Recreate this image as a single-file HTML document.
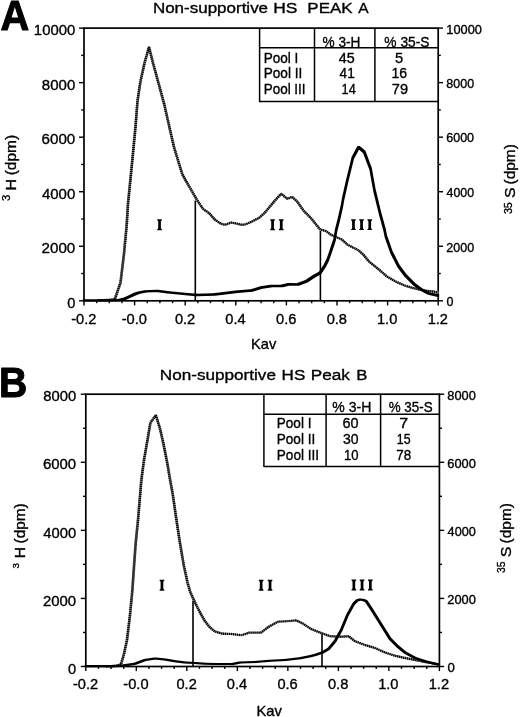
<!DOCTYPE html>
<html><head><meta charset="utf-8"><title>Non-supportive HS peaks</title>
<style>html,body{margin:0;padding:0;background:#fff}text{font-kerning:none}svg{display:block;will-change:transform;transform:translateZ(0)}</style></head>
<body>
<svg width="520" height="717" viewBox="0 0 520 717" stroke="#000" fill="#000">
<rect x="0" y="0" width="520" height="717" fill="#fff" stroke="none"/>
<defs></defs>
<g stroke="#000">
<rect x="84.00" y="28.10" width="354.20" height="272.70" fill="none" stroke-width="1.7"/>
<line x1="79.00" y1="300.80" x2="84.00" y2="300.80" stroke-width="1.4"/>
<line x1="438.20" y1="300.80" x2="443.00" y2="300.80" stroke-width="1.4"/>
<line x1="81.20" y1="273.53" x2="84.00" y2="273.53" stroke-width="1.4"/>
<line x1="438.20" y1="273.53" x2="440.80" y2="273.53" stroke-width="1.4"/>
<line x1="79.00" y1="246.26" x2="84.00" y2="246.26" stroke-width="1.4"/>
<line x1="438.20" y1="246.26" x2="443.00" y2="246.26" stroke-width="1.4"/>
<line x1="81.20" y1="218.99" x2="84.00" y2="218.99" stroke-width="1.4"/>
<line x1="438.20" y1="218.99" x2="440.80" y2="218.99" stroke-width="1.4"/>
<line x1="79.00" y1="191.72" x2="84.00" y2="191.72" stroke-width="1.4"/>
<line x1="438.20" y1="191.72" x2="443.00" y2="191.72" stroke-width="1.4"/>
<line x1="81.20" y1="164.45" x2="84.00" y2="164.45" stroke-width="1.4"/>
<line x1="438.20" y1="164.45" x2="440.80" y2="164.45" stroke-width="1.4"/>
<line x1="79.00" y1="137.18" x2="84.00" y2="137.18" stroke-width="1.4"/>
<line x1="438.20" y1="137.18" x2="443.00" y2="137.18" stroke-width="1.4"/>
<line x1="81.20" y1="109.91" x2="84.00" y2="109.91" stroke-width="1.4"/>
<line x1="438.20" y1="109.91" x2="440.80" y2="109.91" stroke-width="1.4"/>
<line x1="79.00" y1="82.64" x2="84.00" y2="82.64" stroke-width="1.4"/>
<line x1="438.20" y1="82.64" x2="443.00" y2="82.64" stroke-width="1.4"/>
<line x1="81.20" y1="55.37" x2="84.00" y2="55.37" stroke-width="1.4"/>
<line x1="438.20" y1="55.37" x2="440.80" y2="55.37" stroke-width="1.4"/>
<line x1="79.00" y1="28.10" x2="84.00" y2="28.10" stroke-width="1.4"/>
<line x1="438.20" y1="28.10" x2="443.00" y2="28.10" stroke-width="1.4"/>
<line x1="84.00" y1="300.80" x2="84.00" y2="305.40" stroke-width="1.4"/>
<line x1="96.65" y1="300.80" x2="96.65" y2="303.20" stroke-width="1.4"/>
<line x1="109.30" y1="300.80" x2="109.30" y2="303.20" stroke-width="1.4"/>
<line x1="121.95" y1="300.80" x2="121.95" y2="303.20" stroke-width="1.4"/>
<line x1="134.60" y1="300.80" x2="134.60" y2="305.40" stroke-width="1.4"/>
<line x1="147.25" y1="300.80" x2="147.25" y2="303.20" stroke-width="1.4"/>
<line x1="159.90" y1="300.80" x2="159.90" y2="303.20" stroke-width="1.4"/>
<line x1="172.55" y1="300.80" x2="172.55" y2="303.20" stroke-width="1.4"/>
<line x1="185.20" y1="300.80" x2="185.20" y2="305.40" stroke-width="1.4"/>
<line x1="197.85" y1="300.80" x2="197.85" y2="303.20" stroke-width="1.4"/>
<line x1="210.50" y1="300.80" x2="210.50" y2="303.20" stroke-width="1.4"/>
<line x1="223.15" y1="300.80" x2="223.15" y2="303.20" stroke-width="1.4"/>
<line x1="235.80" y1="300.80" x2="235.80" y2="305.40" stroke-width="1.4"/>
<line x1="248.45" y1="300.80" x2="248.45" y2="303.20" stroke-width="1.4"/>
<line x1="261.10" y1="300.80" x2="261.10" y2="303.20" stroke-width="1.4"/>
<line x1="273.75" y1="300.80" x2="273.75" y2="303.20" stroke-width="1.4"/>
<line x1="286.40" y1="300.80" x2="286.40" y2="305.40" stroke-width="1.4"/>
<line x1="299.05" y1="300.80" x2="299.05" y2="303.20" stroke-width="1.4"/>
<line x1="311.70" y1="300.80" x2="311.70" y2="303.20" stroke-width="1.4"/>
<line x1="324.35" y1="300.80" x2="324.35" y2="303.20" stroke-width="1.4"/>
<line x1="337.00" y1="300.80" x2="337.00" y2="305.40" stroke-width="1.4"/>
<line x1="349.65" y1="300.80" x2="349.65" y2="303.20" stroke-width="1.4"/>
<line x1="362.30" y1="300.80" x2="362.30" y2="303.20" stroke-width="1.4"/>
<line x1="374.95" y1="300.80" x2="374.95" y2="303.20" stroke-width="1.4"/>
<line x1="387.60" y1="300.80" x2="387.60" y2="305.40" stroke-width="1.4"/>
<line x1="400.25" y1="300.80" x2="400.25" y2="303.20" stroke-width="1.4"/>
<line x1="412.90" y1="300.80" x2="412.90" y2="303.20" stroke-width="1.4"/>
<line x1="425.55" y1="300.80" x2="425.55" y2="303.20" stroke-width="1.4"/>
<line x1="438.20" y1="300.80" x2="438.20" y2="305.40" stroke-width="1.4"/>
<rect x="85.80" y="394.20" width="353.60" height="272.30" fill="none" stroke-width="1.7"/>
<line x1="80.80" y1="666.50" x2="85.80" y2="666.50" stroke-width="1.4"/>
<line x1="439.40" y1="666.50" x2="444.20" y2="666.50" stroke-width="1.4"/>
<line x1="83.00" y1="632.46" x2="85.80" y2="632.46" stroke-width="1.4"/>
<line x1="439.40" y1="632.46" x2="442.00" y2="632.46" stroke-width="1.4"/>
<line x1="80.80" y1="598.42" x2="85.80" y2="598.42" stroke-width="1.4"/>
<line x1="439.40" y1="598.42" x2="444.20" y2="598.42" stroke-width="1.4"/>
<line x1="83.00" y1="564.39" x2="85.80" y2="564.39" stroke-width="1.4"/>
<line x1="439.40" y1="564.39" x2="442.00" y2="564.39" stroke-width="1.4"/>
<line x1="80.80" y1="530.35" x2="85.80" y2="530.35" stroke-width="1.4"/>
<line x1="439.40" y1="530.35" x2="444.20" y2="530.35" stroke-width="1.4"/>
<line x1="83.00" y1="496.31" x2="85.80" y2="496.31" stroke-width="1.4"/>
<line x1="439.40" y1="496.31" x2="442.00" y2="496.31" stroke-width="1.4"/>
<line x1="80.80" y1="462.27" x2="85.80" y2="462.27" stroke-width="1.4"/>
<line x1="439.40" y1="462.27" x2="444.20" y2="462.27" stroke-width="1.4"/>
<line x1="83.00" y1="428.24" x2="85.80" y2="428.24" stroke-width="1.4"/>
<line x1="439.40" y1="428.24" x2="442.00" y2="428.24" stroke-width="1.4"/>
<line x1="80.80" y1="394.20" x2="85.80" y2="394.20" stroke-width="1.4"/>
<line x1="439.40" y1="394.20" x2="444.20" y2="394.20" stroke-width="1.4"/>
<line x1="85.80" y1="666.50" x2="85.80" y2="671.10" stroke-width="1.4"/>
<line x1="98.43" y1="666.50" x2="98.43" y2="668.90" stroke-width="1.4"/>
<line x1="111.06" y1="666.50" x2="111.06" y2="668.90" stroke-width="1.4"/>
<line x1="123.69" y1="666.50" x2="123.69" y2="668.90" stroke-width="1.4"/>
<line x1="136.31" y1="666.50" x2="136.31" y2="671.10" stroke-width="1.4"/>
<line x1="148.94" y1="666.50" x2="148.94" y2="668.90" stroke-width="1.4"/>
<line x1="161.57" y1="666.50" x2="161.57" y2="668.90" stroke-width="1.4"/>
<line x1="174.20" y1="666.50" x2="174.20" y2="668.90" stroke-width="1.4"/>
<line x1="186.83" y1="666.50" x2="186.83" y2="671.10" stroke-width="1.4"/>
<line x1="199.46" y1="666.50" x2="199.46" y2="668.90" stroke-width="1.4"/>
<line x1="212.09" y1="666.50" x2="212.09" y2="668.90" stroke-width="1.4"/>
<line x1="224.71" y1="666.50" x2="224.71" y2="668.90" stroke-width="1.4"/>
<line x1="237.34" y1="666.50" x2="237.34" y2="671.10" stroke-width="1.4"/>
<line x1="249.97" y1="666.50" x2="249.97" y2="668.90" stroke-width="1.4"/>
<line x1="262.60" y1="666.50" x2="262.60" y2="668.90" stroke-width="1.4"/>
<line x1="275.23" y1="666.50" x2="275.23" y2="668.90" stroke-width="1.4"/>
<line x1="287.86" y1="666.50" x2="287.86" y2="671.10" stroke-width="1.4"/>
<line x1="300.49" y1="666.50" x2="300.49" y2="668.90" stroke-width="1.4"/>
<line x1="313.11" y1="666.50" x2="313.11" y2="668.90" stroke-width="1.4"/>
<line x1="325.74" y1="666.50" x2="325.74" y2="668.90" stroke-width="1.4"/>
<line x1="338.37" y1="666.50" x2="338.37" y2="671.10" stroke-width="1.4"/>
<line x1="351.00" y1="666.50" x2="351.00" y2="668.90" stroke-width="1.4"/>
<line x1="363.63" y1="666.50" x2="363.63" y2="668.90" stroke-width="1.4"/>
<line x1="376.26" y1="666.50" x2="376.26" y2="668.90" stroke-width="1.4"/>
<line x1="388.89" y1="666.50" x2="388.89" y2="671.10" stroke-width="1.4"/>
<line x1="401.51" y1="666.50" x2="401.51" y2="668.90" stroke-width="1.4"/>
<line x1="414.14" y1="666.50" x2="414.14" y2="668.90" stroke-width="1.4"/>
<line x1="426.77" y1="666.50" x2="426.77" y2="668.90" stroke-width="1.4"/>
<line x1="439.40" y1="666.50" x2="439.40" y2="671.10" stroke-width="1.4"/>
<line x1="259.60" y1="28.10" x2="259.60" y2="102.20" stroke-width="1.5"/>
<line x1="314.50" y1="28.10" x2="314.50" y2="101.50" stroke-width="1.5"/>
<line x1="374.90" y1="28.10" x2="374.90" y2="101.50" stroke-width="1.5"/>
<line x1="259.60" y1="47.80" x2="438.20" y2="47.80" stroke-width="1.5"/>
<line x1="259.60" y1="101.50" x2="438.20" y2="101.50" stroke-width="1.5"/>
<line x1="263.90" y1="394.20" x2="263.90" y2="467.10" stroke-width="1.5"/>
<line x1="326.10" y1="394.20" x2="326.10" y2="466.40" stroke-width="1.5"/>
<line x1="380.60" y1="394.20" x2="380.60" y2="466.40" stroke-width="1.5"/>
<line x1="263.90" y1="414.30" x2="439.40" y2="414.30" stroke-width="1.5"/>
<line x1="263.90" y1="466.40" x2="439.40" y2="466.40" stroke-width="1.5"/>
<path d="M157.20,219.30h4.7v0.95q-1.00,0.1 -1.00,1.5V227.75q0,1.4 1.00,1.5v0.95h-4.7v-0.95q1.00,-0.1 1.00,-1.5V221.75q0,-1.4 -1.00,-1.5z" stroke="none" fill="#000"/>
<path d="M270.20,219.30h4.7v0.95q-1.00,0.1 -1.00,1.5V227.75q0,1.4 1.00,1.5v0.95h-4.7v-0.95q1.00,-0.1 1.00,-1.5V221.75q0,-1.4 -1.00,-1.5z" stroke="none" fill="#000"/>
<path d="M278.90,219.30h4.7v0.95q-1.00,0.1 -1.00,1.5V227.75q0,1.4 1.00,1.5v0.95h-4.7v-0.95q1.00,-0.1 1.00,-1.5V221.75q0,-1.4 -1.00,-1.5z" stroke="none" fill="#000"/>
<path d="M351.10,219.20h4.7v0.95q-1.00,0.1 -1.00,1.5V227.65q0,1.4 1.00,1.5v0.95h-4.7v-0.95q1.00,-0.1 1.00,-1.5V221.65q0,-1.4 -1.00,-1.5z" stroke="none" fill="#000"/>
<path d="M359.20,219.20h4.7v0.95q-1.00,0.1 -1.00,1.5V227.65q0,1.4 1.00,1.5v0.95h-4.7v-0.95q1.00,-0.1 1.00,-1.5V221.65q0,-1.4 -1.00,-1.5z" stroke="none" fill="#000"/>
<path d="M367.40,219.20h4.7v0.95q-1.00,0.1 -1.00,1.5V227.65q0,1.4 1.00,1.5v0.95h-4.7v-0.95q1.00,-0.1 1.00,-1.5V221.65q0,-1.4 -1.00,-1.5z" stroke="none" fill="#000"/>
<path d="M159.60,579.80h4.7v0.95q-1.00,0.1 -1.00,1.5V588.25q0,1.4 1.00,1.5v0.95h-4.7v-0.95q1.00,-0.1 1.00,-1.5V582.25q0,-1.4 -1.00,-1.5z" stroke="none" fill="#000"/>
<path d="M258.80,579.80h4.7v0.95q-1.00,0.1 -1.00,1.5V588.25q0,1.4 1.00,1.5v0.95h-4.7v-0.95q1.00,-0.1 1.00,-1.5V582.25q0,-1.4 -1.00,-1.5z" stroke="none" fill="#000"/>
<path d="M267.70,579.80h4.7v0.95q-1.00,0.1 -1.00,1.5V588.25q0,1.4 1.00,1.5v0.95h-4.7v-0.95q1.00,-0.1 1.00,-1.5V582.25q0,-1.4 -1.00,-1.5z" stroke="none" fill="#000"/>
<path d="M351.50,579.60h4.7v0.95q-1.00,0.1 -1.00,1.5V588.05q0,1.4 1.00,1.5v0.95h-4.7v-0.95q1.00,-0.1 1.00,-1.5V582.05q0,-1.4 -1.00,-1.5z" stroke="none" fill="#000"/>
<path d="M359.70,579.60h4.7v0.95q-1.00,0.1 -1.00,1.5V588.05q0,1.4 1.00,1.5v0.95h-4.7v-0.95q1.00,-0.1 1.00,-1.5V582.05q0,-1.4 -1.00,-1.5z" stroke="none" fill="#000"/>
<path d="M368.00,579.60h4.7v0.95q-1.00,0.1 -1.00,1.5V588.05q0,1.4 1.00,1.5v0.95h-4.7v-0.95q1.00,-0.1 1.00,-1.5V582.05q0,-1.4 -1.00,-1.5z" stroke="none" fill="#000"/>
<line x1="195.30" y1="200.50" x2="195.30" y2="300.80" stroke-width="1.6"/>
<line x1="320.40" y1="230.80" x2="320.40" y2="300.80" stroke-width="1.6"/>
<line x1="193.00" y1="600.80" x2="193.00" y2="666.50" stroke-width="1.6"/>
<line x1="322.00" y1="633.30" x2="322.00" y2="666.50" stroke-width="1.6"/>
<g fill="none" stroke="#8c8c8c" stroke-linecap="round"><path d="M97.50,300.20L108.00,299.90" stroke-width="1.80"/><path d="M108.00,299.90L114.80,299.20" stroke-width="1.80"/><path d="M114.80,299.20L120.50,282.70" stroke-width="2.20"/><path d="M120.50,282.70L124.00,253.80" stroke-width="2.24"/><path d="M124.00,253.80L126.70,225.00" stroke-width="2.25"/><path d="M126.70,225.00L127.90,204.90" stroke-width="2.25"/><path d="M127.90,204.90L131.70,166.50" stroke-width="2.25"/><path d="M131.70,166.50L135.40,128.00" stroke-width="2.25"/><path d="M135.40,128.00L137.50,101.00" stroke-width="2.25"/><path d="M137.50,101.00L140.40,81.80" stroke-width="2.24"/><path d="M140.40,81.80L144.60,62.60" stroke-width="2.23"/><path d="M144.60,62.60L149.00,47.20" stroke-width="2.22"/><path d="M149.00,47.20L152.90,62.60" stroke-width="2.22"/><path d="M152.90,62.60L159.20,85.70" stroke-width="2.22"/><path d="M159.20,85.70L164.40,104.90" stroke-width="2.22"/><path d="M164.40,104.90L169.60,128.00" stroke-width="2.23"/><path d="M169.60,128.00L174.00,147.20" stroke-width="2.23"/><path d="M174.00,147.20L182.30,174.20" stroke-width="2.21"/><path d="M182.30,174.20L186.00,181.00" stroke-width="2.15"/><path d="M186.00,181.00L191.25,190.00" stroke-width="2.14"/><path d="M191.25,190.00L196.70,199.50" stroke-width="2.14"/><path d="M196.70,199.50L200.00,204.50" stroke-width="2.11"/><path d="M200.00,204.50L203.10,209.00" stroke-width="2.11"/><path d="M203.10,209.00L209.00,213.00" stroke-width="1.94"/><path d="M209.00,213.00L214.80,219.60" stroke-width="2.05"/><path d="M214.80,219.60L220.50,223.50" stroke-width="1.94"/><path d="M220.50,223.50L225.00,224.80" stroke-width="1.83"/><path d="M225.00,224.80L231.20,222.50" stroke-width="1.85"/><path d="M231.20,222.50L237.80,223.80" stroke-width="1.82"/><path d="M237.80,223.80L241.90,224.80" stroke-width="1.83"/><path d="M241.90,224.80L245.50,224.40" stroke-width="1.81"/><path d="M245.50,224.40L251.30,221.90" stroke-width="1.87"/><path d="M251.30,221.90L255.00,219.80" stroke-width="1.91"/><path d="M255.00,219.80L259.00,218.00" stroke-width="1.88"/><path d="M259.00,218.00L264.80,212.70" stroke-width="2.00"/><path d="M264.80,212.70L270.00,206.50" stroke-width="2.06"/><path d="M270.00,206.50L275.80,199.50" stroke-width="2.07"/><path d="M275.80,199.50L281.20,193.80" stroke-width="2.04"/><path d="M281.20,193.80L284.50,196.50" stroke-width="1.98"/><path d="M284.50,196.50L287.30,198.80" stroke-width="1.98"/><path d="M287.30,198.80L292.10,196.90" stroke-width="1.86"/><path d="M292.10,196.90L296.90,201.20" stroke-width="2.00"/><path d="M296.90,201.20L303.70,210.80" stroke-width="2.10"/><path d="M303.70,210.80L311.30,218.50" stroke-width="2.03"/><path d="M311.30,218.50L320.00,229.40" stroke-width="2.07"/><path d="M320.00,229.40L325.80,231.00" stroke-width="1.83"/><path d="M325.80,231.00L331.50,235.00" stroke-width="1.95"/><path d="M331.50,235.00L335.40,236.70" stroke-width="1.87"/><path d="M335.40,236.70L342.00,239.60" stroke-width="1.87"/><path d="M342.00,239.60L347.30,244.60" stroke-width="2.01"/><path d="M347.30,244.60L354.60,248.30" stroke-width="1.89"/><path d="M354.60,248.30L358.10,250.00" stroke-width="1.89"/><path d="M358.10,250.00L363.50,254.80" stroke-width="2.00"/><path d="M363.50,254.80L369.00,261.50" stroke-width="2.07"/><path d="M369.00,261.50L377.70,268.50" stroke-width="1.98"/><path d="M377.70,268.50L386.90,276.50" stroke-width="1.99"/><path d="M386.90,276.50L396.20,281.80" stroke-width="1.91"/><path d="M396.20,281.80L405.40,285.80" stroke-width="1.87"/><path d="M405.40,285.80L414.60,288.50" stroke-width="1.84"/><path d="M414.60,288.50L423.80,290.40" stroke-width="1.82"/><path d="M423.80,290.40L433.10,291.50" stroke-width="1.81"/><path d="M433.10,291.50L438.00,292.50" stroke-width="1.82"/></g>
<g fill="none" stroke="#000" stroke-dasharray="1.25 0.75"><path d="M97.50,300.20L108.00,299.90" stroke-width="2.30" stroke-dashoffset="0.00"/><path d="M108.00,299.90L114.80,299.20" stroke-width="2.30" stroke-dashoffset="0.50"/><path d="M114.80,299.20L120.50,282.70" stroke-width="2.70" stroke-dashoffset="1.34"/><path d="M120.50,282.70L124.00,253.80" stroke-width="2.74" stroke-dashoffset="0.80"/><path d="M124.00,253.80L126.70,225.00" stroke-width="2.75" stroke-dashoffset="1.91"/><path d="M126.70,225.00L127.90,204.90" stroke-width="2.75" stroke-dashoffset="0.83"/><path d="M127.90,204.90L131.70,166.50" stroke-width="2.75" stroke-dashoffset="0.97"/><path d="M131.70,166.50L135.40,128.00" stroke-width="2.75" stroke-dashoffset="1.56"/><path d="M135.40,128.00L137.50,101.00" stroke-width="2.75" stroke-dashoffset="0.24"/><path d="M137.50,101.00L140.40,81.80" stroke-width="2.74" stroke-dashoffset="1.32"/><path d="M140.40,81.80L144.60,62.60" stroke-width="2.73" stroke-dashoffset="0.73"/><path d="M144.60,62.60L149.00,47.20" stroke-width="2.72" stroke-dashoffset="0.39"/><path d="M149.00,47.20L152.90,62.60" stroke-width="2.72" stroke-dashoffset="0.40"/><path d="M152.90,62.60L159.20,85.70" stroke-width="2.72" stroke-dashoffset="0.29"/><path d="M159.20,85.70L164.40,104.90" stroke-width="2.72" stroke-dashoffset="0.23"/><path d="M164.40,104.90L169.60,128.00" stroke-width="2.73" stroke-dashoffset="0.13"/><path d="M169.60,128.00L174.00,147.20" stroke-width="2.73" stroke-dashoffset="1.80"/><path d="M174.00,147.20L182.30,174.20" stroke-width="2.71" stroke-dashoffset="1.50"/><path d="M182.30,174.20L186.00,181.00" stroke-width="2.65" stroke-dashoffset="1.75"/><path d="M186.00,181.00L191.25,190.00" stroke-width="2.64" stroke-dashoffset="1.49"/><path d="M191.25,190.00L196.70,199.50" stroke-width="2.64" stroke-dashoffset="1.91"/><path d="M196.70,199.50L200.00,204.50" stroke-width="2.61" stroke-dashoffset="0.86"/><path d="M200.00,204.50L203.10,209.00" stroke-width="2.61" stroke-dashoffset="0.85"/><path d="M203.10,209.00L209.00,213.00" stroke-width="2.44" stroke-dashoffset="0.32"/><path d="M209.00,213.00L214.80,219.60" stroke-width="2.55" stroke-dashoffset="1.45"/><path d="M214.80,219.60L220.50,223.50" stroke-width="2.44" stroke-dashoffset="0.23"/><path d="M220.50,223.50L225.00,224.80" stroke-width="2.33" stroke-dashoffset="1.14"/><path d="M225.00,224.80L231.20,222.50" stroke-width="2.35" stroke-dashoffset="1.82"/><path d="M231.20,222.50L237.80,223.80" stroke-width="2.32" stroke-dashoffset="0.44"/><path d="M237.80,223.80L241.90,224.80" stroke-width="2.33" stroke-dashoffset="1.16"/><path d="M241.90,224.80L245.50,224.40" stroke-width="2.31" stroke-dashoffset="1.38"/><path d="M245.50,224.40L251.30,221.90" stroke-width="2.37" stroke-dashoffset="1.00"/><path d="M251.30,221.90L255.00,219.80" stroke-width="2.41" stroke-dashoffset="1.32"/><path d="M255.00,219.80L259.00,218.00" stroke-width="2.38" stroke-dashoffset="1.57"/><path d="M259.00,218.00L264.80,212.70" stroke-width="2.50" stroke-dashoffset="1.96"/><path d="M264.80,212.70L270.00,206.50" stroke-width="2.56" stroke-dashoffset="1.82"/><path d="M270.00,206.50L275.80,199.50" stroke-width="2.57" stroke-dashoffset="1.91"/><path d="M275.80,199.50L281.20,193.80" stroke-width="2.54" stroke-dashoffset="1.00"/><path d="M281.20,193.80L284.50,196.50" stroke-width="2.48" stroke-dashoffset="0.85"/><path d="M284.50,196.50L287.30,198.80" stroke-width="2.48" stroke-dashoffset="1.12"/><path d="M287.30,198.80L292.10,196.90" stroke-width="2.36" stroke-dashoffset="0.74"/><path d="M292.10,196.90L296.90,201.20" stroke-width="2.50" stroke-dashoffset="1.90"/><path d="M296.90,201.20L303.70,210.80" stroke-width="2.60" stroke-dashoffset="0.35"/><path d="M303.70,210.80L311.30,218.50" stroke-width="2.53" stroke-dashoffset="0.11"/><path d="M311.30,218.50L320.00,229.40" stroke-width="2.57" stroke-dashoffset="0.93"/><path d="M320.00,229.40L325.80,231.00" stroke-width="2.33" stroke-dashoffset="0.88"/><path d="M325.80,231.00L331.50,235.00" stroke-width="2.45" stroke-dashoffset="0.89"/><path d="M331.50,235.00L335.40,236.70" stroke-width="2.37" stroke-dashoffset="1.86"/><path d="M335.40,236.70L342.00,239.60" stroke-width="2.37" stroke-dashoffset="0.11"/><path d="M342.00,239.60L347.30,244.60" stroke-width="2.51" stroke-dashoffset="1.32"/><path d="M347.30,244.60L354.60,248.30" stroke-width="2.39" stroke-dashoffset="0.61"/><path d="M354.60,248.30L358.10,250.00" stroke-width="2.39" stroke-dashoffset="0.79"/><path d="M358.10,250.00L363.50,254.80" stroke-width="2.50" stroke-dashoffset="0.68"/><path d="M363.50,254.80L369.00,261.50" stroke-width="2.57" stroke-dashoffset="1.91"/><path d="M369.00,261.50L377.70,268.50" stroke-width="2.48" stroke-dashoffset="0.57"/><path d="M377.70,268.50L386.90,276.50" stroke-width="2.49" stroke-dashoffset="1.74"/><path d="M386.90,276.50L396.20,281.80" stroke-width="2.41" stroke-dashoffset="1.93"/><path d="M396.20,281.80L405.40,285.80" stroke-width="2.37" stroke-dashoffset="0.64"/><path d="M405.40,285.80L414.60,288.50" stroke-width="2.34" stroke-dashoffset="0.67"/><path d="M414.60,288.50L423.80,290.40" stroke-width="2.32" stroke-dashoffset="0.26"/><path d="M423.80,290.40L433.10,291.50" stroke-width="2.31" stroke-dashoffset="1.65"/><path d="M433.10,291.50L438.00,292.50" stroke-width="2.32" stroke-dashoffset="1.02"/></g>
<path d="M82.85,299.25L113.15,299.25L113.15,301.55L82.85,301.55ZM110.85,299.25L117.85,299.05L120.15,299.05L120.15,301.35L113.15,301.55L110.85,301.55ZM117.85,299.05L123.85,297.45L126.15,297.45L126.15,299.75L120.15,301.35L117.85,301.35ZM123.85,297.45L128.85,295.25L131.15,295.25L131.15,297.55L126.15,299.75L123.85,299.75ZM128.85,295.25L133.85,292.85L136.15,292.85L136.15,295.15L131.15,297.55L128.85,297.55ZM133.85,292.85L137.85,291.55L140.15,291.55L140.15,293.85L136.15,295.15L133.85,295.15ZM137.85,291.55L144.35,290.15L146.65,290.15L146.65,292.45L140.15,293.85L137.85,293.85ZM144.35,290.15L155.85,289.65L158.15,289.65L158.15,291.95L146.65,292.45L144.35,292.45ZM155.85,289.65L158.15,289.65L169.75,291.15L169.75,293.45L167.45,293.45L155.85,291.95ZM167.45,291.15L169.75,291.15L185.15,292.65L185.15,294.95L182.85,294.95L167.45,293.45ZM182.85,292.65L185.15,292.65L197.65,293.85L197.65,296.15L195.35,296.15L182.85,294.95ZM195.35,293.85L212.85,293.35L215.15,293.35L215.15,295.65L197.65,296.15L195.35,296.15ZM212.85,293.35L225.35,291.85L227.65,291.85L227.65,294.15L215.15,295.65L212.85,295.65ZM225.35,291.85L235.35,290.6L237.65,290.6L237.65,292.9L227.65,294.15L225.35,294.15ZM235.35,290.6L250.35,289.35L252.65,289.35L252.65,291.65L237.65,292.9L235.35,292.9ZM250.35,289.35L260.35,286.35L262.65,286.35L262.65,288.65L252.65,291.65L250.35,291.65ZM260.35,286.35L270.35,284.85L272.65,284.85L272.65,287.15L262.65,288.65L260.35,288.65ZM270.35,284.85L282.65,284.85L282.65,287.15L270.35,287.15ZM280.35,284.85L287.85,283.1L290.15,283.1L290.15,285.4L282.65,287.15L280.35,287.15ZM287.85,283.1L290.15,283.1L298.9,283.35L298.9,285.65L296.6,285.65L287.85,285.4ZM296.6,283.35L305.35,280.1L307.65,280.1L307.65,282.4L298.9,285.65L296.6,285.65ZM305.35,280.1L312.85,275.1L315.15,275.1L315.15,277.4L307.65,282.4L305.35,282.4ZM312.85,275.1L318.85,271.85L321.15,271.85L321.15,274.15L315.15,277.4L312.85,277.4ZM318.85,271.85L323.45,265.05L325.75,265.05L325.75,267.35L321.15,274.15L318.85,274.15ZM323.45,265.05L326.55,258.85L328.85,258.85L328.85,261.15L325.75,267.35L323.45,267.35ZM326.55,258.85L329.35,250.85L331.65,250.85L331.65,253.15L328.85,261.15L326.55,261.15ZM329.35,250.85L333.35,238.85L335.65,238.85L335.65,241.15L331.65,253.15L329.35,253.15ZM333.35,238.85L335.05,228.85L337.35,228.85L337.35,231.15L335.65,241.15L333.35,241.15ZM335.05,228.85L337.25,220.35L339.55,220.35L339.55,222.65L337.35,231.15L335.05,231.15ZM337.25,220.35L340.75,205.05L343.05,205.05L343.05,207.35L339.55,222.65L337.25,222.65ZM340.75,205.05L341.95,198.05L344.25,198.05L344.25,200.35L343.05,207.35L340.75,207.35ZM341.95,198.05L346.05,179.65L348.35,179.65L348.35,181.95L344.25,200.35L341.95,200.35ZM346.05,179.65L351.65,156.65L353.95,156.65L353.95,158.95L348.35,181.95L346.05,181.95ZM351.65,156.65L357.45,146.05L359.75,146.05L359.75,148.35L353.95,158.95L351.65,158.95ZM357.45,146.05L359.75,146.05L365.45,150.85L365.45,153.15L363.15,153.15L357.45,148.35ZM363.15,150.85L365.45,150.85L371.75,167.65L371.75,169.95L369.45,169.95L363.15,153.15ZM369.45,167.65L371.75,167.65L375.55,188.85L375.55,191.15L373.25,191.15L369.45,169.95ZM373.25,188.85L375.55,188.85L381.15,211.95L381.15,214.25L378.85,214.25L373.25,191.15ZM378.85,211.95L381.15,211.95L385.75,228.85L385.75,231.15L383.45,231.15L378.85,214.25ZM383.45,228.85L385.75,228.85L386.95,235.05L386.95,237.35L384.65,237.35L383.45,231.15ZM384.65,235.05L386.95,235.05L392.65,251.15L392.65,253.45L390.35,253.45L384.65,237.35ZM390.35,251.15L392.65,251.15L399.65,265.05L399.65,267.35L397.35,267.35L390.35,253.45ZM397.35,265.05L399.65,265.05L406.55,274.25L406.55,276.55L404.25,276.55L397.35,267.35ZM404.25,274.25L406.55,274.25L415.75,283.45L415.75,285.75L413.45,285.75L404.25,276.55ZM413.45,283.45L415.75,283.45L422.65,288.55L422.65,290.85L420.35,290.85L413.45,285.75ZM420.35,288.55L422.65,288.55L429.65,292.25L429.65,294.55L427.35,294.55L420.35,290.85ZM427.35,292.25L429.65,292.25L436.55,293.85L436.55,296.15L434.25,296.15L427.35,294.55ZM434.25,293.85L436.55,293.85L439.15,294.45L439.15,296.75L436.85,296.75L434.25,296.15Z" stroke="none" fill="#000"/>
<g fill="none" stroke="#8c8c8c" stroke-linecap="round"><path d="M106.00,666.30L116.25,665.90" stroke-width="1.80"/><path d="M116.25,665.90L121.00,664.20" stroke-width="1.85"/><path d="M121.00,664.20L123.75,655.00" stroke-width="2.21"/><path d="M123.75,655.00L127.00,640.00" stroke-width="2.23"/><path d="M127.00,640.00L130.00,615.00" stroke-width="2.24"/><path d="M130.00,615.00L132.20,592.00" stroke-width="2.25"/><path d="M132.20,592.00L133.70,570.90" stroke-width="2.25"/><path d="M133.70,570.90L135.60,544.00" stroke-width="2.25"/><path d="M135.60,544.00L138.10,519.00" stroke-width="2.25"/><path d="M138.10,519.00L140.20,494.00" stroke-width="2.25"/><path d="M140.20,494.00L141.30,480.50" stroke-width="2.25"/><path d="M141.30,480.50L143.80,461.30" stroke-width="2.24"/><path d="M143.80,461.30L147.10,442.10" stroke-width="2.24"/><path d="M147.10,442.10L150.40,422.80" stroke-width="2.24"/><path d="M150.40,422.80L155.80,415.20" stroke-width="2.10"/><path d="M155.80,415.20L160.00,428.60" stroke-width="2.21"/><path d="M160.00,428.60L163.50,444.00" stroke-width="2.23"/><path d="M163.50,444.00L167.30,463.20" stroke-width="2.23"/><path d="M167.30,463.20L170.20,480.50" stroke-width="2.24"/><path d="M170.20,480.50L172.70,494.00" stroke-width="2.24"/><path d="M172.70,494.00L176.00,517.00" stroke-width="2.24"/><path d="M176.00,517.00L179.80,542.00" stroke-width="2.24"/><path d="M179.80,542.00L183.70,565.00" stroke-width="2.24"/><path d="M183.70,565.00L187.50,582.50" stroke-width="2.23"/><path d="M187.50,582.50L190.20,592.00" stroke-width="2.22"/><path d="M190.20,592.00L195.00,602.50" stroke-width="2.17"/><path d="M195.00,602.50L200.00,612.50" stroke-width="2.16"/><path d="M200.00,612.50L205.00,621.25" stroke-width="2.14"/><path d="M205.00,621.25L210.00,627.50" stroke-width="2.07"/><path d="M210.00,627.50L215.00,631.50" stroke-width="1.98"/><path d="M215.00,631.50L222.50,633.75" stroke-width="1.84"/><path d="M222.50,633.75L230.00,633.80" stroke-width="1.80"/><path d="M230.00,633.80L241.50,635.20" stroke-width="1.81"/><path d="M241.50,635.20L249.20,632.70" stroke-width="1.84"/><path d="M249.20,632.70L260.80,632.70" stroke-width="1.80"/><path d="M260.80,632.70L268.50,626.90" stroke-width="1.96"/><path d="M268.50,626.90L278.10,621.70" stroke-width="1.90"/><path d="M278.10,621.70L287.70,621.20" stroke-width="1.80"/><path d="M287.70,621.20L296.30,620.40" stroke-width="1.80"/><path d="M296.30,620.40L303.10,623.70" stroke-width="1.89"/><path d="M303.10,623.70L310.80,628.80" stroke-width="1.94"/><path d="M310.80,628.80L320.40,632.70" stroke-width="1.86"/><path d="M320.40,632.70L330.00,636.20" stroke-width="1.85"/><path d="M330.00,636.20L340.00,636.75" stroke-width="1.80"/><path d="M340.00,636.75L348.75,636.25" stroke-width="1.80"/><path d="M348.75,636.25L355.00,641.25" stroke-width="1.98"/><path d="M355.00,641.25L365.00,645.00" stroke-width="1.86"/><path d="M365.00,645.00L375.00,648.00" stroke-width="1.84"/><path d="M375.00,648.00L385.00,652.50" stroke-width="1.88"/><path d="M385.00,652.50L395.00,655.75" stroke-width="1.84"/><path d="M395.00,655.75L405.00,658.00" stroke-width="1.82"/><path d="M405.00,658.00L415.00,660.00" stroke-width="1.82"/><path d="M415.00,660.00L425.00,662.00" stroke-width="1.82"/><path d="M425.00,662.00L435.00,663.75" stroke-width="1.81"/><path d="M435.00,663.75L438.75,664.50" stroke-width="1.82"/></g>
<g fill="none" stroke="#000" stroke-dasharray="1.25 0.75"><path d="M106.00,666.30L116.25,665.90" stroke-width="2.30" stroke-dashoffset="0.00"/><path d="M116.25,665.90L121.00,664.20" stroke-width="2.35" stroke-dashoffset="0.26"/><path d="M121.00,664.20L123.75,655.00" stroke-width="2.71" stroke-dashoffset="1.30"/><path d="M123.75,655.00L127.00,640.00" stroke-width="2.73" stroke-dashoffset="0.91"/><path d="M127.00,640.00L130.00,615.00" stroke-width="2.74" stroke-dashoffset="0.25"/><path d="M130.00,615.00L132.20,592.00" stroke-width="2.75" stroke-dashoffset="1.43"/><path d="M132.20,592.00L133.70,570.90" stroke-width="2.75" stroke-dashoffset="0.54"/><path d="M133.70,570.90L135.60,544.00" stroke-width="2.75" stroke-dashoffset="1.69"/><path d="M135.60,544.00L138.10,519.00" stroke-width="2.75" stroke-dashoffset="0.66"/><path d="M138.10,519.00L140.20,494.00" stroke-width="2.75" stroke-dashoffset="1.78"/><path d="M140.20,494.00L141.30,480.50" stroke-width="2.75" stroke-dashoffset="0.87"/><path d="M141.30,480.50L143.80,461.30" stroke-width="2.74" stroke-dashoffset="0.42"/><path d="M143.80,461.30L147.10,442.10" stroke-width="2.74" stroke-dashoffset="1.78"/><path d="M147.10,442.10L150.40,422.80" stroke-width="2.74" stroke-dashoffset="1.26"/><path d="M150.40,422.80L155.80,415.20" stroke-width="2.60" stroke-dashoffset="0.84"/><path d="M155.80,415.20L160.00,428.60" stroke-width="2.71" stroke-dashoffset="0.16"/><path d="M160.00,428.60L163.50,444.00" stroke-width="2.73" stroke-dashoffset="0.20"/><path d="M163.50,444.00L167.30,463.20" stroke-width="2.73" stroke-dashoffset="2.00"/><path d="M167.30,463.20L170.20,480.50" stroke-width="2.74" stroke-dashoffset="1.57"/><path d="M170.20,480.50L172.70,494.00" stroke-width="2.74" stroke-dashoffset="1.11"/><path d="M172.70,494.00L176.00,517.00" stroke-width="2.74" stroke-dashoffset="0.84"/><path d="M176.00,517.00L179.80,542.00" stroke-width="2.74" stroke-dashoffset="0.08"/><path d="M179.80,542.00L183.70,565.00" stroke-width="2.74" stroke-dashoffset="1.36"/><path d="M183.70,565.00L187.50,582.50" stroke-width="2.73" stroke-dashoffset="0.69"/><path d="M187.50,582.50L190.20,592.00" stroke-width="2.72" stroke-dashoffset="0.60"/><path d="M190.20,592.00L195.00,602.50" stroke-width="2.67" stroke-dashoffset="0.48"/><path d="M195.00,602.50L200.00,612.50" stroke-width="2.66" stroke-dashoffset="0.02"/><path d="M200.00,612.50L205.00,621.25" stroke-width="2.64" stroke-dashoffset="1.20"/><path d="M205.00,621.25L210.00,627.50" stroke-width="2.57" stroke-dashoffset="1.28"/><path d="M210.00,627.50L215.00,631.50" stroke-width="2.48" stroke-dashoffset="1.28"/><path d="M215.00,631.50L222.50,633.75" stroke-width="2.34" stroke-dashoffset="1.69"/><path d="M222.50,633.75L230.00,633.80" stroke-width="2.30" stroke-dashoffset="1.52"/><path d="M230.00,633.80L241.50,635.20" stroke-width="2.31" stroke-dashoffset="1.02"/><path d="M241.50,635.20L249.20,632.70" stroke-width="2.34" stroke-dashoffset="0.60"/><path d="M249.20,632.70L260.80,632.70" stroke-width="2.30" stroke-dashoffset="0.70"/><path d="M260.80,632.70L268.50,626.90" stroke-width="2.46" stroke-dashoffset="0.30"/><path d="M268.50,626.90L278.10,621.70" stroke-width="2.40" stroke-dashoffset="1.94"/><path d="M278.10,621.70L287.70,621.20" stroke-width="2.30" stroke-dashoffset="0.86"/><path d="M287.70,621.20L296.30,620.40" stroke-width="2.30" stroke-dashoffset="0.47"/><path d="M296.30,620.40L303.10,623.70" stroke-width="2.39" stroke-dashoffset="1.11"/><path d="M303.10,623.70L310.80,628.80" stroke-width="2.44" stroke-dashoffset="0.66"/><path d="M310.80,628.80L320.40,632.70" stroke-width="2.36" stroke-dashoffset="1.90"/><path d="M320.40,632.70L330.00,636.20" stroke-width="2.35" stroke-dashoffset="0.26"/><path d="M330.00,636.20L340.00,636.75" stroke-width="2.30" stroke-dashoffset="0.48"/><path d="M340.00,636.75L348.75,636.25" stroke-width="2.30" stroke-dashoffset="0.49"/><path d="M348.75,636.25L355.00,641.25" stroke-width="2.48" stroke-dashoffset="1.26"/><path d="M355.00,641.25L365.00,645.00" stroke-width="2.36" stroke-dashoffset="1.26"/><path d="M365.00,645.00L375.00,648.00" stroke-width="2.34" stroke-dashoffset="1.94"/><path d="M375.00,648.00L385.00,652.50" stroke-width="2.38" stroke-dashoffset="0.38"/><path d="M385.00,652.50L395.00,655.75" stroke-width="2.34" stroke-dashoffset="1.35"/><path d="M395.00,655.75L405.00,658.00" stroke-width="2.32" stroke-dashoffset="1.86"/><path d="M405.00,658.00L415.00,660.00" stroke-width="2.32" stroke-dashoffset="0.11"/><path d="M415.00,660.00L425.00,662.00" stroke-width="2.32" stroke-dashoffset="0.31"/><path d="M425.00,662.00L435.00,663.75" stroke-width="2.31" stroke-dashoffset="0.51"/><path d="M435.00,663.75L438.75,664.50" stroke-width="2.32" stroke-dashoffset="0.66"/></g>
<path d="M84.7,665L113.1,665L113.1,667.2L84.7,667.2ZM110.9,665L121.4,664.6L123.6,664.6L123.6,666.8L113.1,667.2L110.9,667.2ZM121.4,664.6L133.9,662.65L136.1,662.65L136.1,664.85L123.6,666.8L121.4,666.8ZM133.9,662.65L143.9,658.9L146.1,658.9L146.1,661.1L136.1,664.85L133.9,664.85ZM143.9,658.9L153.9,657.4L156.1,657.4L156.1,659.6L146.1,661.1L143.9,661.1ZM153.9,657.4L156.1,657.4L166.1,658.4L166.1,660.6L163.9,660.6L153.9,659.6ZM163.9,658.4L166.1,658.4L176.1,660.15L176.1,662.35L173.9,662.35L163.9,660.6ZM173.9,660.15L176.1,660.15L186.1,661.4L186.1,663.6L183.9,663.6L173.9,662.35ZM183.9,661.4L186.1,661.4L196.1,661.9L196.1,664.1L193.9,664.1L183.9,663.6ZM193.9,661.9L196.1,661.9L206.1,662.65L206.1,664.85L203.9,664.85L193.9,664.1ZM203.9,662.65L206.1,662.65L216.1,662.9L216.1,665.1L213.9,665.1L203.9,664.85ZM213.9,662.9L233.6,662.9L233.6,665.1L213.9,665.1ZM231.4,662.9L238.9,661.4L241.1,661.4L241.1,663.6L233.6,665.1L231.4,665.1ZM238.9,661.4L253.9,660.9L256.1,660.9L256.1,663.1L241.1,663.6L238.9,663.6ZM253.9,660.9L268.9,659.65L271.1,659.65L271.1,661.85L256.1,663.1L253.9,663.1ZM268.9,659.65L283.9,658.9L286.1,658.9L286.1,661.1L271.1,661.85L268.9,661.85ZM283.9,658.9L298.9,657.15L301.1,657.15L301.1,659.35L286.1,661.1L283.9,661.1ZM298.9,657.15L308.9,655.15L311.1,655.15L311.1,657.35L301.1,659.35L298.9,659.35ZM308.9,655.15L313.9,653.9L316.1,653.9L316.1,656.1L311.1,657.35L308.9,657.35ZM313.9,653.9L321.4,651.4L323.6,651.4L323.6,653.6L316.1,656.1L313.9,656.1ZM321.4,651.4L327.65,647.65L329.85,647.65L329.85,649.85L323.6,653.6L321.4,653.6ZM327.65,647.65L333.9,640.15L336.1,640.15L336.1,642.35L329.85,649.85L327.65,649.85ZM333.9,640.15L340.15,628.9L342.35,628.9L342.35,631.1L336.1,642.35L333.9,642.35ZM340.15,628.9L346.4,613.9L348.6,613.9L348.6,616.1L342.35,631.1L340.15,631.1ZM346.4,613.9L352.65,602.65L354.85,602.65L354.85,604.85L348.6,616.1L346.4,616.1ZM352.65,602.65L355.9,599.4L358.1,599.4L358.1,601.6L354.85,604.85L352.65,604.85ZM355.9,599.4L358.9,598.4L361.1,598.4L361.1,600.6L358.1,601.6L355.9,601.6ZM358.9,598.4L361.1,598.4L364.6,598.9L364.6,601.1L362.4,601.1L358.9,600.6ZM362.4,598.9L364.6,598.9L367.35,600.15L367.35,602.35L365.15,602.35L362.4,601.1ZM365.15,600.15L367.35,600.15L372.35,607.65L372.35,609.85L370.15,609.85L365.15,602.35ZM370.15,607.65L372.35,607.65L378.6,617.65L378.6,619.85L376.4,619.85L370.15,609.85ZM376.4,617.65L378.6,617.65L384.85,627.65L384.85,629.85L382.65,629.85L376.4,619.85ZM382.65,627.65L384.85,627.65L391.1,637.65L391.1,639.85L388.9,639.85L382.65,629.85ZM388.9,637.65L391.1,637.65L398.6,645.15L398.6,647.35L396.4,647.35L388.9,639.85ZM396.4,645.15L398.6,645.15L406.1,651.4L406.1,653.6L403.9,653.6L396.4,647.35ZM403.9,651.4L406.1,651.4L416.1,656.9L416.1,659.1L413.9,659.1L403.9,653.6ZM413.9,656.9L416.1,656.9L426.1,660.15L426.1,662.35L423.9,662.35L413.9,659.1ZM423.9,660.15L426.1,660.15L436.1,662.65L436.1,664.85L433.9,664.85L423.9,662.35ZM433.9,662.65L436.1,662.65L439.85,663.4L439.85,665.6L437.65,665.6L433.9,664.85Z" stroke="none" fill="#000"/>
</g>
<g stroke="none" fill="#000">
<text transform="translate(263.69,62.70) scale(0.9285,1.0000)" font-family='"Liberation Sans", sans-serif' font-size="14.6" stroke="#000" stroke-width="0.35" stroke-linejoin="round">Pool I</text>
<text transform="translate(263.68,77.90) scale(0.9319,1.0000)" font-family='"Liberation Sans", sans-serif' font-size="14.6" stroke="#000" stroke-width="0.35" stroke-linejoin="round">Pool II</text>
<text transform="translate(263.69,94.00) scale(0.9230,1.0000)" font-family='"Liberation Sans", sans-serif' font-size="14.6" stroke="#000" stroke-width="0.35" stroke-linejoin="round">Pool III</text>
<text transform="translate(322.51,46.70) scale(0.9343,1.0000)" font-family='"Liberation Sans", sans-serif' font-size="14.6" stroke="#000" stroke-width="0.35" stroke-linejoin="round">% 3-H</text>
<text transform="translate(384.31,46.70) scale(0.9446,1.0000)" font-family='"Liberation Sans", sans-serif' font-size="14.6" stroke="#000" stroke-width="0.35" stroke-linejoin="round">% 35-S</text>
<text transform="translate(338.77,62.50) scale(0.9809,1.0000)" font-family='"Liberation Sans", sans-serif' font-size="14.6" stroke="#000" stroke-width="0.35" stroke-linejoin="round">45</text>
<text transform="translate(339.59,77.50) scale(0.9347,1.0000)" font-family='"Liberation Sans", sans-serif' font-size="14.6" stroke="#000" stroke-width="0.35" stroke-linejoin="round">41</text>
<text transform="translate(341.52,94.00) scale(0.8776,1.0000)" font-family='"Liberation Sans", sans-serif' font-size="14.6" stroke="#000" stroke-width="0.35" stroke-linejoin="round">14</text>
<text transform="translate(395.11,62.50) scale(1.0112,1.0000)" font-family='"Liberation Sans", sans-serif' font-size="14.6" stroke="#000" stroke-width="0.35" stroke-linejoin="round">5</text>
<text transform="translate(391.53,77.50) scale(0.9665,1.0000)" font-family='"Liberation Sans", sans-serif' font-size="14.6" stroke="#000" stroke-width="0.35" stroke-linejoin="round">16</text>
<text transform="translate(391.85,94.00) scale(1.0000,1.0000)" font-family='"Liberation Sans", sans-serif' font-size="14.6" stroke="#000" stroke-width="0.35" stroke-linejoin="round">79</text>
<text transform="translate(276.79,427.70) scale(0.9285,1.0000)" font-family='"Liberation Sans", sans-serif' font-size="14.6" stroke="#000" stroke-width="0.35" stroke-linejoin="round">Pool I</text>
<text transform="translate(276.79,443.60) scale(0.9293,1.0000)" font-family='"Liberation Sans", sans-serif' font-size="14.6" stroke="#000" stroke-width="0.35" stroke-linejoin="round">Pool II</text>
<text transform="translate(276.78,459.60) scale(0.9324,1.0000)" font-family='"Liberation Sans", sans-serif' font-size="14.6" stroke="#000" stroke-width="0.35" stroke-linejoin="round">Pool III</text>
<text transform="translate(332.30,412.30) scale(0.9626,1.0000)" font-family='"Liberation Sans", sans-serif' font-size="14.6" stroke="#000" stroke-width="0.35" stroke-linejoin="round">% 3-H</text>
<text transform="translate(388.72,412.30) scale(0.9167,1.0000)" font-family='"Liberation Sans", sans-serif' font-size="14.6" stroke="#000" stroke-width="0.35" stroke-linejoin="round">% 35-S</text>
<text transform="translate(342.46,427.80) scale(0.9914,1.0000)" font-family='"Liberation Sans", sans-serif' font-size="14.6" stroke="#000" stroke-width="0.35" stroke-linejoin="round">60</text>
<text transform="translate(342.97,443.50) scale(0.9594,1.0000)" font-family='"Liberation Sans", sans-serif' font-size="14.6" stroke="#000" stroke-width="0.35" stroke-linejoin="round">30</text>
<text transform="translate(344.01,459.50) scale(0.8930,1.0000)" font-family='"Liberation Sans", sans-serif' font-size="14.6" stroke="#000" stroke-width="0.35" stroke-linejoin="round">10</text>
<text transform="translate(399.28,427.80) scale(1.0999,1.0000)" font-family='"Liberation Sans", sans-serif' font-size="14.6" stroke="#000" stroke-width="0.35" stroke-linejoin="round">7</text>
<text transform="translate(396.76,443.50) scale(0.8474,1.0000)" font-family='"Liberation Sans", sans-serif' font-size="14.6" stroke="#000" stroke-width="0.35" stroke-linejoin="round">15</text>
<text transform="translate(396.31,459.50) scale(0.9221,1.0000)" font-family='"Liberation Sans", sans-serif' font-size="14.6" stroke="#000" stroke-width="0.35" stroke-linejoin="round">78</text>
<text transform="translate(152.91,13.00) scale(1.1181,1.0000)" font-family='"Liberation Sans", sans-serif' font-size="15.2" stroke="#000" stroke-width="0.35" stroke-linejoin="round">Non-supportive</text>
<text transform="translate(273.17,13.00) scale(1.1476,1.0000)" font-family='"Liberation Sans", sans-serif' font-size="15.2" stroke="#000" stroke-width="0.35" stroke-linejoin="round">HS</text>
<text transform="translate(307.31,13.00) scale(1.1166,1.0000)" font-family='"Liberation Sans", sans-serif' font-size="15.2" stroke="#000" stroke-width="0.35" stroke-linejoin="round">PEAK</text>
<text transform="translate(358.17,13.00) scale(1.0219,1.0000)" font-family='"Liberation Sans", sans-serif' font-size="15.2" stroke="#000" stroke-width="0.35" stroke-linejoin="round">A</text>
<text transform="translate(159.79,380.40) scale(1.1270,1.0000)" font-family='"Liberation Sans", sans-serif' font-size="15.2" stroke="#000" stroke-width="0.35" stroke-linejoin="round">Non-supportive</text>
<text transform="translate(281.60,380.40) scale(1.1215,1.0000)" font-family='"Liberation Sans", sans-serif' font-size="15.2" stroke="#000" stroke-width="0.35" stroke-linejoin="round">HS</text>
<text transform="translate(310.79,380.40) scale(1.1310,1.0000)" font-family='"Liberation Sans", sans-serif' font-size="15.2" stroke="#000" stroke-width="0.35" stroke-linejoin="round">Peak</text>
<text transform="translate(356.33,380.40) scale(1.1001,1.0000)" font-family='"Liberation Sans", sans-serif' font-size="15.2" stroke="#000" stroke-width="0.35" stroke-linejoin="round">B</text>
<text transform="translate(0.41,30.30) scale(0.9539,1.0000)" font-family='"Liberation Sans", sans-serif' font-size="41.72" font-weight="bold" stroke="#000" stroke-width="1.0" stroke-linejoin="round">A</text>
<text transform="translate(-0.97,397.30) scale(0.9342,1.0000)" font-family='"Liberation Sans", sans-serif' font-size="41.86" font-weight="bold" stroke="#000" stroke-width="1.0" stroke-linejoin="round">B</text>
<text transform="translate(33.87,35.00) scale(1.0272,1.0000)" font-family='"Liberation Sans", sans-serif' font-size="14.5" stroke="#000" stroke-width="0.35" stroke-linejoin="round">10000</text>
<text transform="translate(41.85,89.60) scale(1.0367,1.0000)" font-family='"Liberation Sans", sans-serif' font-size="14.5" stroke="#000" stroke-width="0.35" stroke-linejoin="round">8000</text>
<text transform="translate(41.53,144.00) scale(1.0467,1.0000)" font-family='"Liberation Sans", sans-serif' font-size="14.5" stroke="#000" stroke-width="0.35" stroke-linejoin="round">6000</text>
<text transform="translate(41.96,199.30) scale(1.0332,1.0000)" font-family='"Liberation Sans", sans-serif' font-size="14.5" stroke="#000" stroke-width="0.35" stroke-linejoin="round">4000</text>
<text transform="translate(41.54,253.40) scale(1.0465,1.0000)" font-family='"Liberation Sans", sans-serif' font-size="14.5" stroke="#000" stroke-width="0.35" stroke-linejoin="round">2000</text>
<text transform="translate(67.13,307.50) scale(1.0099,1.0000)" font-family='"Liberation Sans", sans-serif' font-size="14.5" stroke="#000" stroke-width="0.35" stroke-linejoin="round">0</text>
<text transform="translate(446.33,33.50) scale(1.0234,1.0000)" font-family='"Liberation Sans", sans-serif' font-size="12.5" stroke="#000" stroke-width="0.35" stroke-linejoin="round">10000</text>
<text transform="translate(446.36,87.90) scale(0.9972,1.0000)" font-family='"Liberation Sans", sans-serif' font-size="12.5" stroke="#000" stroke-width="0.35" stroke-linejoin="round">8000</text>
<text transform="translate(446.26,142.40) scale(1.0006,1.0000)" font-family='"Liberation Sans", sans-serif' font-size="12.5" stroke="#000" stroke-width="0.35" stroke-linejoin="round">6000</text>
<text transform="translate(446.62,197.20) scale(0.9877,1.0000)" font-family='"Liberation Sans", sans-serif' font-size="12.5" stroke="#000" stroke-width="0.35" stroke-linejoin="round">4000</text>
<text transform="translate(446.27,251.80) scale(1.0003,1.0000)" font-family='"Liberation Sans", sans-serif' font-size="12.5" stroke="#000" stroke-width="0.35" stroke-linejoin="round">2000</text>
<text transform="translate(446.41,306.00) scale(1.0041,1.0000)" font-family='"Liberation Sans", sans-serif' font-size="12.5" stroke="#000" stroke-width="0.35" stroke-linejoin="round">0</text>
<text transform="translate(71.23,324.00) scale(1.0100,1.0000)" font-family='"Liberation Sans", sans-serif' font-size="14.5" stroke="#000" stroke-width="0.35" stroke-linejoin="round">-0.2</text>
<text transform="translate(121.74,324.00) scale(1.0100,1.0000)" font-family='"Liberation Sans", sans-serif' font-size="14.5" stroke="#000" stroke-width="0.35" stroke-linejoin="round">-0.0</text>
<text transform="translate(174.90,324.00) scale(1.0100,1.0000)" font-family='"Liberation Sans", sans-serif' font-size="14.5" stroke="#000" stroke-width="0.35" stroke-linejoin="round">0.2</text>
<text transform="translate(225.35,324.00) scale(1.0100,1.0000)" font-family='"Liberation Sans", sans-serif' font-size="14.5" stroke="#000" stroke-width="0.35" stroke-linejoin="round">0.4</text>
<text transform="translate(276.06,324.00) scale(1.0100,1.0000)" font-family='"Liberation Sans", sans-serif' font-size="14.5" stroke="#000" stroke-width="0.35" stroke-linejoin="round">0.6</text>
<text transform="translate(326.65,324.00) scale(1.0100,1.0000)" font-family='"Liberation Sans", sans-serif' font-size="14.5" stroke="#000" stroke-width="0.35" stroke-linejoin="round">0.8</text>
<text transform="translate(376.95,324.00) scale(1.0100,1.0000)" font-family='"Liberation Sans", sans-serif' font-size="14.5" stroke="#000" stroke-width="0.35" stroke-linejoin="round">1.0</text>
<text transform="translate(427.63,324.00) scale(1.0100,1.0000)" font-family='"Liberation Sans", sans-serif' font-size="14.5" stroke="#000" stroke-width="0.35" stroke-linejoin="round">1.2</text>
<text transform="translate(251.00,349.10) scale(1.0468,1.0000)" font-family='"Liberation Sans", sans-serif' font-size="14" stroke="#000" stroke-width="0.35" stroke-linejoin="round">Kav</text>
<text transform="translate(43.26,400.90) scale(1.0206,1.0000)" font-family='"Liberation Sans", sans-serif' font-size="14.5" stroke="#000" stroke-width="0.35" stroke-linejoin="round">8000</text>
<text transform="translate(42.94,469.30) scale(1.0306,1.0000)" font-family='"Liberation Sans", sans-serif' font-size="14.5" stroke="#000" stroke-width="0.35" stroke-linejoin="round">6000</text>
<text transform="translate(43.36,537.50) scale(1.0173,1.0000)" font-family='"Liberation Sans", sans-serif' font-size="14.5" stroke="#000" stroke-width="0.35" stroke-linejoin="round">4000</text>
<text transform="translate(42.95,605.60) scale(1.0303,1.0000)" font-family='"Liberation Sans", sans-serif' font-size="14.5" stroke="#000" stroke-width="0.35" stroke-linejoin="round">2000</text>
<text transform="translate(68.03,673.60) scale(1.0099,1.0000)" font-family='"Liberation Sans", sans-serif' font-size="14.5" stroke="#000" stroke-width="0.35" stroke-linejoin="round">0</text>
<text transform="translate(447.34,399.50) scale(1.0233,1.0000)" font-family='"Liberation Sans", sans-serif' font-size="12.5" stroke="#000" stroke-width="0.35" stroke-linejoin="round">8000</text>
<text transform="translate(447.25,467.50) scale(1.0268,1.0000)" font-family='"Liberation Sans", sans-serif' font-size="12.5" stroke="#000" stroke-width="0.35" stroke-linejoin="round">6000</text>
<text transform="translate(447.61,535.60) scale(1.0136,1.0000)" font-family='"Liberation Sans", sans-serif' font-size="12.5" stroke="#000" stroke-width="0.35" stroke-linejoin="round">4000</text>
<text transform="translate(447.25,603.70) scale(1.0266,1.0000)" font-family='"Liberation Sans", sans-serif' font-size="12.5" stroke="#000" stroke-width="0.35" stroke-linejoin="round">2000</text>
<text transform="translate(447.39,671.80) scale(1.0543,1.0000)" font-family='"Liberation Sans", sans-serif' font-size="12.5" stroke="#000" stroke-width="0.35" stroke-linejoin="round">0</text>
<text transform="translate(72.93,689.40) scale(1.0100,1.0000)" font-family='"Liberation Sans", sans-serif' font-size="14.5" stroke="#000" stroke-width="0.35" stroke-linejoin="round">-0.2</text>
<text transform="translate(123.36,689.40) scale(1.0100,1.0000)" font-family='"Liberation Sans", sans-serif' font-size="14.5" stroke="#000" stroke-width="0.35" stroke-linejoin="round">-0.0</text>
<text transform="translate(176.43,689.40) scale(1.0100,1.0000)" font-family='"Liberation Sans", sans-serif' font-size="14.5" stroke="#000" stroke-width="0.35" stroke-linejoin="round">0.2</text>
<text transform="translate(226.79,689.40) scale(1.0100,1.0000)" font-family='"Liberation Sans", sans-serif' font-size="14.5" stroke="#000" stroke-width="0.35" stroke-linejoin="round">0.4</text>
<text transform="translate(277.41,689.40) scale(1.0100,1.0000)" font-family='"Liberation Sans", sans-serif' font-size="14.5" stroke="#000" stroke-width="0.35" stroke-linejoin="round">0.6</text>
<text transform="translate(327.92,689.40) scale(1.0100,1.0000)" font-family='"Liberation Sans", sans-serif' font-size="14.5" stroke="#000" stroke-width="0.35" stroke-linejoin="round">0.8</text>
<text transform="translate(378.13,689.40) scale(1.0100,1.0000)" font-family='"Liberation Sans", sans-serif' font-size="14.5" stroke="#000" stroke-width="0.35" stroke-linejoin="round">1.0</text>
<text transform="translate(428.73,689.40) scale(1.0100,1.0000)" font-family='"Liberation Sans", sans-serif' font-size="14.5" stroke="#000" stroke-width="0.35" stroke-linejoin="round">1.2</text>
<text transform="translate(256.39,715.70) scale(1.0555,1.0000)" font-family='"Liberation Sans", sans-serif' font-size="14" stroke="#000" stroke-width="0.35" stroke-linejoin="round">Kav</text>
<text transform="translate(9.60,0.00) rotate(-90) translate(-201.03,0.00) scale(0.9981,1.0000)" font-family='"Liberation Sans", sans-serif' font-size="11.2" stroke="#000" stroke-width="0.35" stroke-linejoin="round">3</text>
<text transform="translate(16.00,0.00) rotate(-90) translate(-190.61,0.00) scale(1.1064,1.0000)" font-family='"Liberation Sans", sans-serif' font-size="14.4" stroke="#000" stroke-width="0.35" stroke-linejoin="round">H</text>
<text transform="translate(16.00,0.00) rotate(-90) translate(-175.36,0.00) scale(1.0777,1.0000)" font-family='"Liberation Sans", sans-serif' font-size="14.4" stroke="#000" stroke-width="0.35" stroke-linejoin="round">(dpm)</text>
<text transform="translate(511.80,0.00) rotate(-90) translate(-214.11,0.00) scale(1.0145,1.0000)" font-family='"Liberation Sans", sans-serif' font-size="10.6" stroke="#000" stroke-width="0.35" stroke-linejoin="round">35</text>
<text transform="translate(515.00,0.00) rotate(-90) translate(-198.12,0.00) scale(1.0977,1.0000)" font-family='"Liberation Sans", sans-serif' font-size="14.4" stroke="#000" stroke-width="0.35" stroke-linejoin="round">S</text>
<text transform="translate(515.00,0.00) rotate(-90) translate(-184.46,0.00) scale(1.0721,1.0000)" font-family='"Liberation Sans", sans-serif' font-size="14.4" stroke="#000" stroke-width="0.35" stroke-linejoin="round">(dpm)</text>
<text transform="translate(18.80,0.00) rotate(-90) translate(-568.48,0.00) scale(1.0326,1.0000)" font-family='"Liberation Sans", sans-serif' font-size="9.6" stroke="#000" stroke-width="0.35" stroke-linejoin="round">3</text>
<text transform="translate(25.10,0.00) rotate(-90) translate(-558.28,0.00) scale(1.0816,1.0000)" font-family='"Liberation Sans", sans-serif' font-size="14.4" stroke="#000" stroke-width="0.35" stroke-linejoin="round">H</text>
<text transform="translate(25.10,0.00) rotate(-90) translate(-543.45,0.00) scale(1.0637,1.0000)" font-family='"Liberation Sans", sans-serif' font-size="14.4" stroke="#000" stroke-width="0.35" stroke-linejoin="round">(dpm)</text>
<text transform="translate(505.30,0.00) rotate(-90) translate(-573.09,0.00) scale(1.0064,1.0000)" font-family='"Liberation Sans", sans-serif' font-size="10.3" stroke="#000" stroke-width="0.35" stroke-linejoin="round">35</text>
<text transform="translate(511.40,0.00) rotate(-90) translate(-557.13,0.00) scale(1.1098,1.0000)" font-family='"Liberation Sans", sans-serif' font-size="14.4" stroke="#000" stroke-width="0.35" stroke-linejoin="round">S</text>
<text transform="translate(511.40,0.00) rotate(-90) translate(-543.46,0.00) scale(1.0749,1.0000)" font-family='"Liberation Sans", sans-serif' font-size="14.4" stroke="#000" stroke-width="0.35" stroke-linejoin="round">(dpm)</text>
</g>
</svg>
</body></html>
